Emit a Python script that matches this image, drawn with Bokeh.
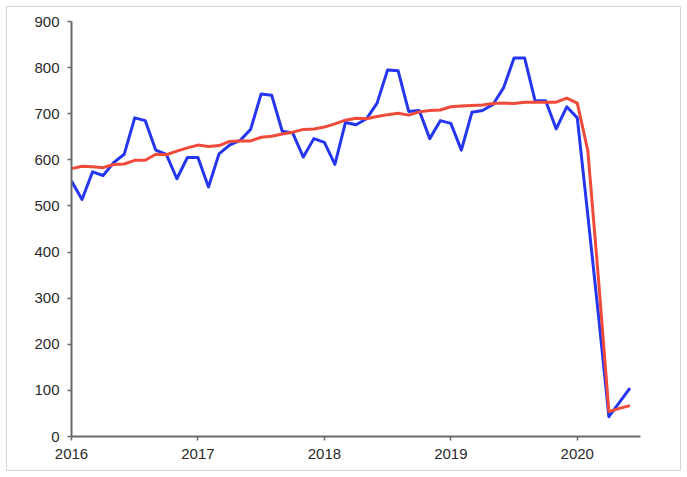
import pandas as pd
from bokeh.plotting import figure
from bokeh.models import Range1d, FixedTicker, CustomJSTickFormatter
from bokeh.embed import file_html
from bokeh.resources import INLINE

# Monthly data Jan 2016 - Jun 2020
months = [d.strftime("%Y-%m") for d in pd.date_range("2016-01-01", "2020-06-01", freq="MS")]

raw = [554, 514, 574, 566, 594, 612, 691, 685, 621, 612, 559, 605,
       605, 541, 613, 632, 642, 666, 743, 740, 662, 658, 606, 646,
       638, 590, 681, 676, 689, 723, 795, 793, 705, 707, 646, 685,
       679, 621, 703, 707, 720, 756, 821, 821, 728, 728, 667, 715,
       691, 480, 265, 43, 74, 105]

adjusted = [581, 586, 585, 583, 590, 591, 599, 599, 612, 611, 619, 626,
            632, 629, 631, 640, 641, 641, 649, 651, 656, 660, 666, 667,
            671, 678, 686, 690, 689, 694, 698, 701, 697, 704, 707, 708,
            715, 717, 718, 719, 722, 723, 722, 725, 725, 725, 725, 734,
            723, 620, 345, 54, 61, 67]

year_ticks = [2016, 2017, 2018, 2019, 2020]
y_ticks = [0, 100, 200, 300, 400, 500, 600, 700, 800, 900]

# convert month strings to fractional years
x = [int(m[:4]) + (int(m[5:]) - 1) / 12 for m in months]

p = figure(width=673, height=463, output_backend="svg", toolbar_location=None,
           x_range=Range1d(2016, 2020.5), y_range=Range1d(0, 900),
           min_border_left=64, min_border_right=40, min_border_top=14,
           min_border_bottom=34)

p.styles = {"outline": "1px solid #d4d4d4", "margin": "7px"}
p.outline_line_color = None
p.xgrid.visible = False
p.ygrid.visible = False

p.line(x, raw, line_color="#2536ef", line_width=3, line_join="round")
p.line(x, adjusted, line_color="#ef4a3a", line_width=3, line_join="round")

font = "Liberation Sans"
for ax in (p.xaxis[0], p.yaxis[0]):
    ax.axis_line_color = "#6a6a6a"
    ax.axis_line_width = 2
    ax.major_tick_line_color = "#6a6a6a"
    ax.major_tick_line_width = 1.5
    ax.major_tick_out = 4
    ax.major_tick_in = 0
    ax.minor_tick_line_color = None
    ax.major_label_text_font = font
    ax.major_label_text_font_size = "15px"
    ax.major_label_text_color = "#2a2a2a"

p.xaxis.ticker = FixedTicker(ticks=year_ticks)
p.xaxis.formatter = CustomJSTickFormatter(code="return String(tick);")
p.xaxis.major_label_standoff = 8
p.yaxis.ticker = FixedTicker(ticks=y_ticks)
p.yaxis.major_label_standoff = 8

open("out.html", "w").write(file_html(p, INLINE))
